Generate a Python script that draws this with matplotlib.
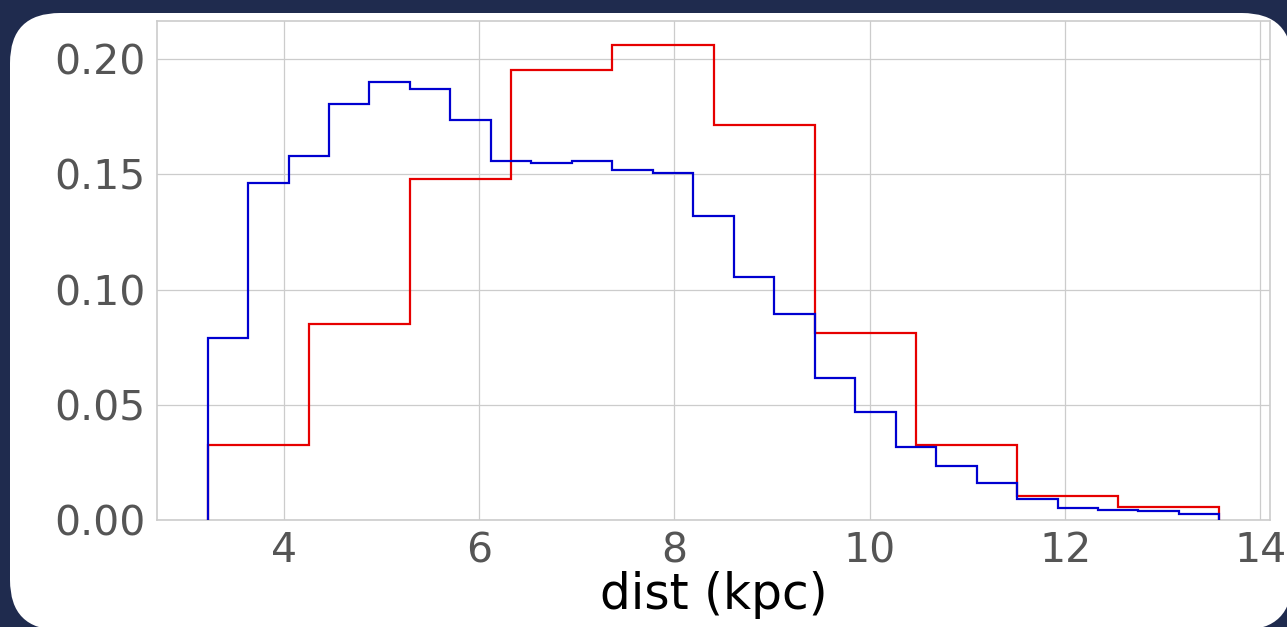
import numpy as np
import matplotlib
matplotlib.use("Agg")
import matplotlib.pyplot as plt
from matplotlib.patches import FancyBboxPatch
from matplotlib.ticker import FormatStrFormatter

# histogram heights (density)
DIST_MIN, DIST_MAX = 3.22, 13.58
blue_density = [0.0790, 0.1461, 0.1578, 0.1803, 0.1901, 0.1872, 0.1734, 0.1557,
                0.1550, 0.1559, 0.1517, 0.1504, 0.1317, 0.1056, 0.0895, 0.0617,
                0.0470, 0.0317, 0.0235, 0.0159, 0.0089, 0.0052, 0.0043, 0.0038,
                0.0025]
red_density = [0.0327, 0.0850, 0.1480, 0.1953, 0.2062, 0.1716, 0.0812, 0.0325,
               0.0104, 0.0056]
x_ticks = [4, 6, 8, 10, 12, 14]
y_ticks = [0.00, 0.05, 0.10, 0.15, 0.20]

NAVY = "#1f2b4e"
GRID = "#cccccc"
TICK_COL = "#555555"

fig = plt.figure(figsize=(12.87, 6.27), dpi=100, facecolor=NAVY)

# white rounded panel behind the plot
panel = FancyBboxPatch((0.10, -0.03), 12.82, 6.17,
                       boxstyle="round,pad=0,rounding_size=0.5",
                       transform=fig.dpi_scale_trans, facecolor="white",
                       edgecolor="none", zorder=-10)
fig.patches.append(panel)

ax = fig.add_axes([0.122, 0.1707, 0.8648, 0.7958])
ax.set_facecolor("white")

blue_edges = np.linspace(DIST_MIN, DIST_MAX, len(blue_density) + 1)
red_edges = np.linspace(DIST_MIN, DIST_MAX, len(red_density) + 1)
blue_mid = (blue_edges[:-1] + blue_edges[1:]) / 2
red_mid = (red_edges[:-1] + red_edges[1:]) / 2

ax.hist(red_mid, bins=red_edges, weights=red_density, histtype="step",
        color="#e60000", linewidth=1.6, zorder=3)
ax.hist(blue_mid, bins=blue_edges, weights=blue_density, histtype="step",
        color="#0000d0", linewidth=1.6, zorder=4)

ax.set_xticks(x_ticks)
ax.set_yticks(y_ticks)
ax.yaxis.set_major_formatter(FormatStrFormatter("%.2f"))
ax.tick_params(length=0, labelsize=29.5, colors=TICK_COL, pad=8)
ax.grid(True, color=GRID, linewidth=0.9, zorder=0)
ax.set_axisbelow(True)
for s in ax.spines.values():
    s.set_color(GRID)
    s.set_linewidth(1.2)

ax.set_xlabel("dist (kpc)", fontsize=35, color="black", labelpad=0)

fig.savefig("out.png", dpi=100, facecolor=NAVY)
